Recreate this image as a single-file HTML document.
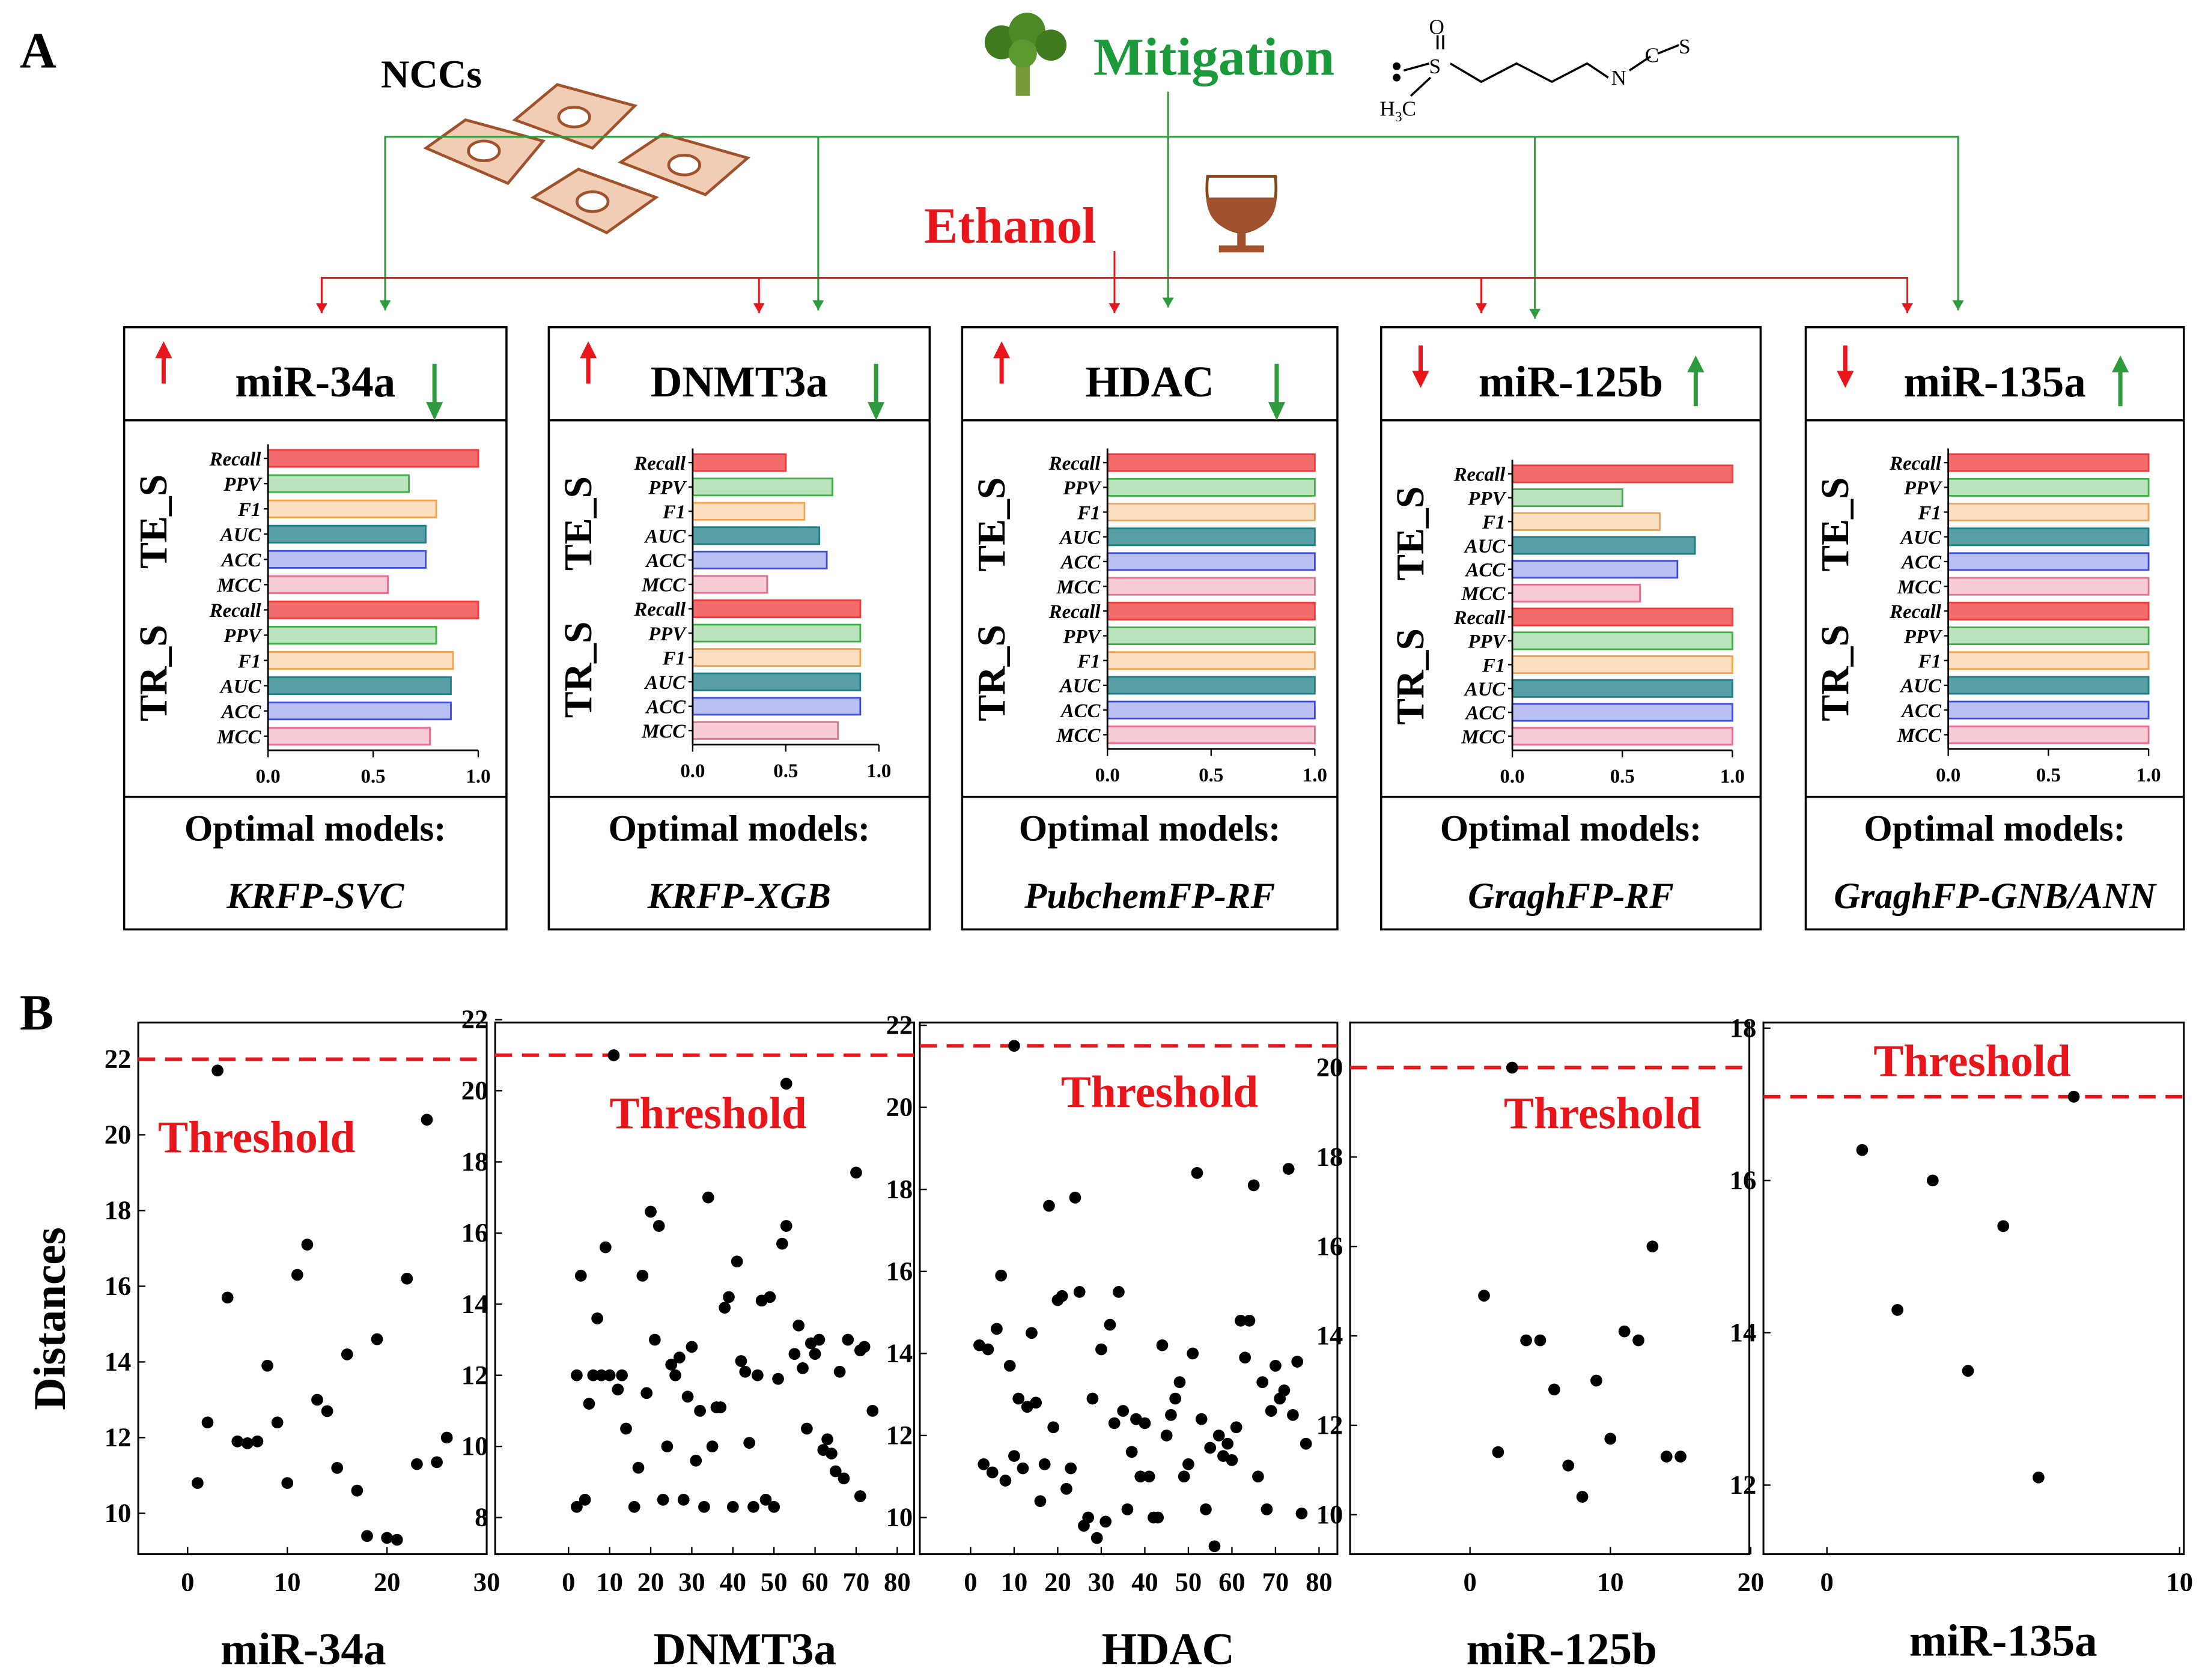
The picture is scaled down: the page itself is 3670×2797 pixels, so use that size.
<!DOCTYPE html>
<html><head><meta charset="utf-8"><style>
html,body{margin:0;padding:0;background:#fff}
svg{display:block}
text{font-family:"Liberation Serif",serif}
</style></head><body>
<svg id="fig" width="3670" height="2797" viewBox="0 0 1563 1191.2" preserveAspectRatio="none" xmlns="http://www.w3.org/2000/svg">
<rect width="1563" height="1192" fill="#fff"/>
<text x="14" y="48" font-size="36" font-weight="bold">A</text>
<text x="14" y="730" font-size="36" font-weight="bold">B</text>
<text x="270" y="62" font-size="28" font-weight="bold">NCCs</text>
<g fill="#f2cdb5" stroke="#a0522d" stroke-width="2">
<polygon points="365,85 395,60 450,75 420,105"/><ellipse cx="407" cy="83" rx="11" ry="7" fill="#fff"/>
<polygon points="302,105 330,85 385,100 360,130"/><ellipse cx="343" cy="107" rx="11" ry="7" fill="#fff"/>
<polygon points="440,115 470,95 530,112 500,138"/><ellipse cx="485" cy="117" rx="11" ry="7" fill="#fff"/>
<polygon points="378,140 410,120 465,140 430,165"/><ellipse cx="420" cy="143" rx="11" ry="7" fill="#fff"/>
</g>
<g>
<rect x="720" y="40" width="10" height="28" fill="#7a9a3a"/>
<circle cx="710" cy="30" r="12" fill="#3f7a1e"/><circle cx="728" cy="22" r="13" fill="#4c8a26"/><circle cx="745" cy="32" r="11" fill="#3f7a1e"/><circle cx="725" cy="38" r="10" fill="#5a9a30"/>
</g>
<text x="775" y="53" font-size="38" font-weight="bold" fill="#1a9a3a">Mitigation</text>
<g stroke="#000" stroke-width="1.5" fill="none" font-family="Liberation Sans,sans-serif">
<circle cx="990" cy="47" r="2" fill="#000"/><circle cx="990" cy="55" r="2" fill="#000"/>
<line x1="995" y1="50" x2="1013" y2="45"/><line x1="1019" y1="35" x2="1019" y2="25"/><line x1="1023" y1="35" x2="1023" y2="25"/>
<line x1="1014" y1="55" x2="1000" y2="68"/>
<polyline points="1028,45 1050,58 1075,45 1100,58 1125,45 1140,55"/>
<line x1="1155" y1="50" x2="1170" y2="40"/><line x1="1175" y1="38" x2="1190" y2="32"/>
</g>
<g font-family="Liberation Sans,sans-serif" font-size="15">
<text x="1013" y="24">O</text><text x="1013" y="52">S</text><text x="978" y="82">H<tspan font-size="10" dy="4">3</tspan><tspan dy="-4">C</tspan></text>
<text x="1142" y="60">N</text><text x="1166" y="44">C</text><text x="1190" y="38">S</text>
</g>
<g>
<path d="M856,125 Q852,160 880,165 Q908,160 904,125 Z" fill="#fff" stroke="#8b4513" stroke-width="2"/>
<path d="M855,140 Q856,162 880,165 Q904,162 905,140 Z" fill="#a0522d"/>
<rect x="877" y="165" width="6" height="10" fill="#a0522d"/><rect x="864" y="174" width="32" height="5" fill="#a0522d"/>
</g>
<text x="655" y="172" font-size="36" font-weight="bold" fill="#e8161b">Ethanol</text>
<g id="conn"></g>
<g id="boxes"></g>
<text x="0" y="0" font-size="32" font-weight="bold" transform="translate(46,935) rotate(-90)" text-anchor="middle">Distances</text>
<g id="scat"></g>
</svg>
<script>
const NS="http://www.w3.org/2000/svg";
function mk(p,tag,a,txt){const e=document.createElementNS(NS,tag);for(const k in a)e.setAttribute(k,a[k]);if(txt!=null)e.textContent=txt;p.appendChild(e);return e;}
const metrics=["Recall","PPV","F1","AUC","ACC","MCC"];
const targets=["miR-34a","DNMT3a","HDAC","miR-125b","miR-135a"];
const models=["KRFP-SVC","KRFP-XGB","PubchemFP-RF","GraghFP-RF","GraghFP-GNB/ANN"];
const teVals=[[1.0,0.67,0.8,0.75,0.75,0.57],[0.5,0.75,0.6,0.68,0.72,0.4],[1,1,1,1,1,1],[1.0,0.5,0.67,0.83,0.75,0.58],[1,1,1,1,1,1]];
const trVals=[[1.0,0.8,0.88,0.87,0.87,0.77],[0.9,0.9,0.9,0.9,0.9,0.78],[1,1,1,1,1,1],[1,1,1,1,1,1],[1,1,1,1,1,1]];
const ethanolUp=[1,1,1,0,0];
const ticksA=["0.0","0.5","1.0"];
const box=[[88,359,190,339,325,522],[389,659,491,623,328,518],[682,948,785,932,328,521],[979,1248,1072,1228,336,522],[1280,1548,1381,1523,328,521]];
const greenX=[308,621,905,1202,1503];
const colors=["#ee3b3b","#3cb043","#f5a04a","#1f7f86","#3b4be0","#e86d8c"];
const conn=document.getElementById('conn');
const G="#2e9a3e",R="#e8161b";
mk(conn,'polyline',{points:"273,220 273,97 1388,97 1388,220",fill:"none",stroke:G,"stroke-width":1.3});
[[580,220],[1088,226]].forEach(d=>mk(conn,'line',{x1:d[0],y1:97,x2:d[0],y2:d[1],stroke:G,"stroke-width":1.3}));
mk(conn,'line',{x1:828,y1:65,x2:828,y2:218,stroke:G,"stroke-width":1.3});
mk(conn,'polyline',{points:"228,222 228,197 1352,197 1352,222",fill:"none",stroke:R,"stroke-width":1.3});
[[538,222],[1050,222]].forEach(d=>mk(conn,'line',{x1:d[0],y1:197,x2:d[0],y2:d[1],stroke:R,"stroke-width":1.3}));
mk(conn,'line',{x1:790,y1:178,x2:790,y2:222,stroke:R,"stroke-width":1.3});
[[273,G,220],[580,G,220],[828,G,218],[1088,G,226],[1388,G,220],[228,R,222],[538,R,222],[790,R,222],[1050,R,222],[1352,R,222]].forEach(d=>
 mk(conn,'polygon',{points:`${d[0]-4},${d[2]-7} ${d[0]+4},${d[2]-7} ${d[0]},${d[2]}`,fill:d[1]}));
const boxes=document.getElementById('boxes');
targets.forEach((t,i)=>{
 const [L,Rr,x0,x1,yT,yB]=box[i];
 const g=mk(boxes,'g',{});
 
 
 mk(g,'rect',{x:L,y:232,width:Rr-L,height:427,fill:"none",stroke:"#000","stroke-width":1.5});
 mk(g,'line',{x1:L,y1:298,x2:Rr,y2:298,stroke:"#000","stroke-width":1.5});
 mk(g,'line',{x1:L,y1:565,x2:Rr,y2:565,stroke:"#000","stroke-width":1.5});
 const cx=(L+Rr)/2;
 const ht=mk(g,'text',{x:cx,y:281,"font-size":31,"font-weight":"bold","text-anchor":"middle"},t);
 
 
 const up=ethanolUp[i]==1;
 const ax=L+28;
 if(up){mk(g,'line',{x1:ax,y1:272,x2:ax,y2:252,stroke:R,"stroke-width":3});mk(g,'polygon',{points:`${ax-6},254 ${ax+6},254 ${ax},242`,fill:R});}
 else{mk(g,'line',{x1:ax,y1:245,x2:ax,y2:265,stroke:R,"stroke-width":3});mk(g,'polygon',{points:`${ax-6},263 ${ax+6},263 ${ax},275`,fill:R});}
 const gx=greenX[i];
 if(up){ // green down
  mk(g,'line',{x1:gx,y1:258,x2:gx,y2:288,stroke:G,"stroke-width":3});mk(g,'polygon',{points:`${gx-6},285 ${gx+6},285 ${gx},298`,fill:G});
 } else { // green up
  mk(g,'line',{x1:gx,y1:288,x2:gx,y2:262,stroke:G,"stroke-width":3});mk(g,'polygon',{points:`${gx-6},264 ${gx+6},264 ${gx},252`,fill:G});
 }
 const step=(yB-yT)/11;
 const sx=v=>x0+v*(x1-x0);
 const all=teVals[i].concat(trVals[i]);
 all.forEach((v,k)=>{
  const y=yT+k*step, m=k%6;
  const b=mk(g,'rect',{x:x0,y:y-6,width:sx(v)-x0,height:12,fill:colors[m],"fill-opacity":(m==0||m==3)?0.75:0.35,stroke:colors[m],"stroke-width":1.2});
  
  
  mk(g,'text',{x:x0-5,y:y+5,"font-size":14,"font-weight":"bold","font-style":"italic","text-anchor":"end"},metrics[m]);
  mk(g,'line',{x1:x0-3,y1:y,x2:x0,y2:y,stroke:"#000"});
 });
 mk(g,'line',{x1:x0,y1:yT-10,x2:x0,y2:yB+10,stroke:"#000","stroke-width":1.2});
 mk(g,'line',{x1:x0,y1:yB+10,x2:x1,y2:yB+10,stroke:"#000","stroke-width":1.2});
 ticksA.forEach((tk,j)=>{const xx=sx(j*0.5);mk(g,'line',{x1:xx,y1:yB+10,x2:xx,y2:yB+15,stroke:"#000"});
  mk(g,'text',{x:xx,y:yB+33,"font-size":14,"font-weight":"bold","text-anchor":"middle"},tk);});
 const tx=L+30;
 mk(g,'text',{x:0,y:0,"font-size":28,"font-weight":"bold","text-anchor":"middle",transform:`translate(${tx},${yT+step*2.5}) rotate(-90)`},"TE_S");
 mk(g,'text',{x:0,y:0,"font-size":28,"font-weight":"bold","text-anchor":"middle",transform:`translate(${tx},${yT+step*8.5}) rotate(-90)`},"TR_S");
 mk(g,'text',{x:cx,y:596,"font-size":26,"font-weight":"bold","text-anchor":"middle"},"Optimal models:");
 mk(g,'text',{x:cx,y:644,"font-size":26,"font-weight":"bold","font-style":"italic","text-anchor":"middle"},models[i]);
});
const s1x=[1,2,3,4,5,6,7,8,9,10,11,12,13,14,15,16,17,18,19,20,21,22,23,24,25,26];
const s1y=[10.8,12.4,21.7,15.7,11.9,11.85,11.9,13.9,12.4,10.8,16.3,17.1,13,12.7,11.2,14.2,10.6,9.4,14.6,9.35,9.3,16.2,11.3,20.4,11.35,12];
const s2x=[2,2,3,4,5,6,7,8,9,10,11,12,13,14,16,17,18,19,20,21,22,23,24,25,26,27,28,29,30,31,32,33,34,35,36,37,38,39,40,41,42,43,44,45,46,47,48,49,50,51,52,53,53,55,56,57,58,59,60,61,62,63,64,65,66,67,68,70,71,71,72,74];
const s2y=[8.3,12,14.8,8.5,11.2,12,13.6,12,15.6,12,21,11.6,12,10.5,8.3,9.4,14.8,11.5,16.6,13,16.2,8.5,10,12.3,12,12.5,8.5,11.4,12.8,9.6,11,8.3,17,10,11.1,11.1,13.9,14.2,8.3,15.2,12.4,12.1,10.1,8.3,12,14.1,8.5,14.2,8.3,11.9,15.7,16.2,20.2,12.6,13.4,12.2,10.5,12.9,12.6,13,9.9,10.2,9.8,9.3,12.1,9.1,13,17.7,8.6,12.7,12.8,11];
const s3x=[2,3,4,5,6,7,8,9,10,10,11,12,13,14,15,16,17,18,19,20,21,22,23,24,25,26,27,28,29,30,31,32,33,34,35,36,37,38,39,40,41,42,43,44,45,46,47,48,49,50,51,52,53,54,55,56,57,58,59,60,61,62,63,64,65,66,67,68,69,70,71,72,73,74,75,76,77];
const s3y=[14.2,11.3,14.1,11.1,14.6,15.9,10.9,13.7,21.5,11.5,12.9,11.2,12.7,14.5,12.8,10.4,11.3,17.6,12.2,15.3,15.4,10.7,11.2,17.8,15.5,9.8,10,12.9,9.5,14.1,9.9,14.7,12.3,15.5,12.6,10.2,11.6,12.4,11,12.3,11,10,10,14.2,12,12.5,12.9,13.3,11,11.3,14,18.4,12.4,10.2,11.7,9.3,12,11.5,11.8,11.4,12.2,14.8,13.9,14.8,18.1,11,13.3,10.2,12.6,13.7,12.9,13.1,18.5,12.5,13.8,10.1,11.8];
const s4x=[1,2,3,4,5,6,7,8,9,10,11,12,13,14,15];
const s4y=[14.9,11.4,20,13.9,13.9,12.8,11.1,10.4,13,11.7,14.1,13.9,16,11.3,11.3];
const s5x=[1,2,3,4,5,6,7];
const s5y=[16.4,14.3,16,13.5,15.4,12.1,17.1];
const thresholds=[22,21,21.5,20,17.1];
const xTicks=[[0,10,20,30],[0,10,20,30,40,50,60,70,80],[0,10,20,30,40,50,60,70,80],[0,10,20],[0,10]];
const yTicks=[[10,12,14,16,18,20,22],[8,10,12,14,16,18,20,22],[10,12,14,16,18,20,22],[10,12,14,16,18,20],[12,14,16,18]];
const series=[[s1x,s1y],[s2x,s2y],[s3x,s3y],[s4x,s4y],[s5x,s5y]];
const frames=[[98,345,0,133,30,345,22,751,10,1073,112,817],[351,648,0,403,80,636,22,723,8,1076,432,800],[652,948,0,688,80,935,22,727,10,1076,752,785],[957,1240,0,1042,20,1241,20,757,10,1074,1066,800],[1250,1548,0,1295,10,1545,18,729,12,1053,1328,763]];
const xlabPos=[[215,1180],[528,1180],[828,1180],[1107,1180],[1420,1174]];
const scat=document.getElementById('scat');
targets.forEach((t,i)=>{
 const f=frames[i];
 const X=v=>f[3]+(v-f[2])*(f[5]-f[3])/(f[4]-f[2]);
 const Y=v=>f[7]+(v-f[6])*(f[9]-f[7])/(f[8]-f[6]);
 const g=mk(scat,'g',{});
 
 
 const top=725,bot=1102;
 mk(g,'rect',{x:f[0],y:top,width:f[1]-f[0],height:bot-top,fill:"none",stroke:"#000","stroke-width":1.3});
 xTicks[i].forEach(v=>{const x=X(v);mk(g,'line',{x1:x,y1:bot,x2:x,y2:bot-5,stroke:"#000"});
  mk(g,'text',{x:x,y:bot+26,"font-size":19,"font-weight":"bold","text-anchor":"middle"},v);});
 yTicks[i].forEach(v=>{const y=Y(v);mk(g,'line',{x1:f[0],y1:y,x2:f[0]+5,y2:y,stroke:"#000"});
  mk(g,'text',{x:f[0]-5,y:y+6,"font-size":19,"font-weight":"bold","text-anchor":"end"},v);});
 const th=mk(g,'line',{x1:f[0],y1:Y(thresholds[i]),x2:f[1],y2:Y(thresholds[i]),stroke:"#e8161b","stroke-width":2.5,"stroke-dasharray":"12,7"});
 
 
 mk(g,'text',{x:f[10],y:f[11],"font-size":32,"font-weight":"bold",fill:"#e8161b"},"Threshold");
 const [xs,ys]=series[i];
 xs.forEach((xv,k)=>{
  const c=mk(g,'circle',{cx:X(xv),cy:Y(ys[k]),r:4.2,fill:"#000"});
  
  
 });
 mk(g,'text',{x:xlabPos[i][0],y:xlabPos[i][1],"font-size":32,"font-weight":"bold","text-anchor":"middle"},t);
});
</script>
</body></html>
